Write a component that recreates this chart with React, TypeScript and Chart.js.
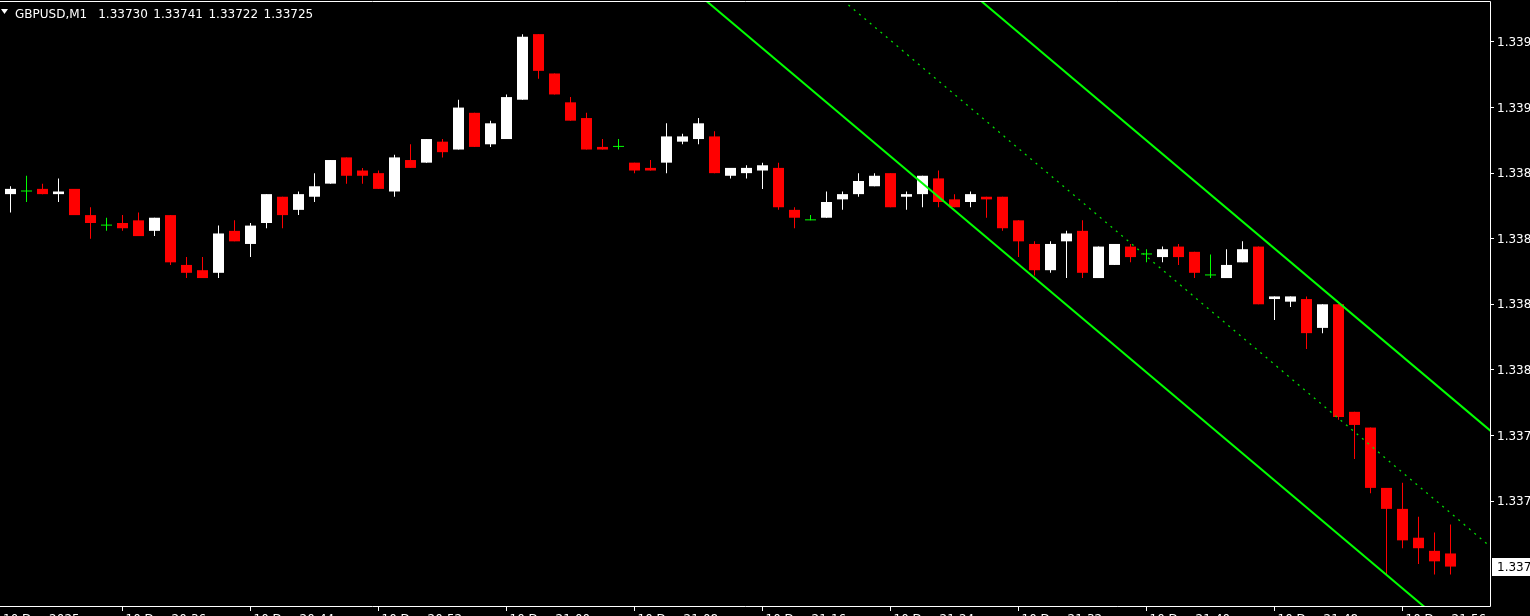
import React, { useEffect, useRef } from "react";
import { Chart, registerables } from "chart.js";

Chart.register(...registerables);

const symbol = "GBPUSD";
const timeframe = "M1";

const opens = [
  1.33867, 1.33868, 1.33869, 1.33867, 1.33869, 1.33859, 1.33855, 1.33856, 1.33857, 1.33853,
  1.33859, 1.3384, 1.33838, 1.33837, 1.33853, 1.33848, 1.33856, 1.33866, 1.33861, 1.33866,
  1.33871, 1.33881, 1.33876, 1.33875, 1.33868, 1.3388, 1.33879, 1.33887, 1.33884, 1.33898,
  1.33886, 1.33888, 1.33903, 1.33928, 1.33913, 1.33902, 1.33896, 1.33885, 1.33885, 1.33879,
  1.33877, 1.33879, 1.33887, 1.33888, 1.33889, 1.33874, 1.33875, 1.33876, 1.33877, 1.33861,
  1.33857, 1.33858, 1.33865, 1.33867, 1.3387, 1.33875, 1.33866, 1.33867, 1.33873, 1.33865,
  1.33864, 1.33866, 1.33866, 1.33857, 1.33848, 1.33838, 1.33849, 1.33853, 1.33835, 1.3384,
  1.33847, 1.33844, 1.33843, 1.33847, 1.33845, 1.33836, 1.33835, 1.33841, 1.33847, 1.33827,
  1.33826, 1.33827, 1.33816, 1.33825, 1.33784, 1.33778, 1.33755, 1.33747, 1.33736, 1.33731,
  1.3373,
];

const highs = [
  1.3387, 1.33874, 1.33871, 1.33873, 1.33869, 1.33862, 1.33858, 1.33859, 1.3386, 1.33858,
  1.33859, 1.33843, 1.33843, 1.33855, 1.33857, 1.33856, 1.33867, 1.33866, 1.33868, 1.33875,
  1.3388, 1.33881, 1.33877, 1.33876, 1.33882, 1.33886, 1.33888, 1.33888, 1.33903, 1.33898,
  1.33895, 1.33905, 1.33928, 1.33928, 1.33913, 1.33904, 1.33898, 1.33888, 1.33888, 1.33879,
  1.3388, 1.33894, 1.3389, 1.33896, 1.33891, 1.33877, 1.33878, 1.33879, 1.33879, 1.33862,
  1.33859, 1.33868, 1.33868, 1.33875, 1.33875, 1.33875, 1.33868, 1.33874, 1.33876, 1.33867,
  1.33868, 1.33866, 1.33866, 1.33857, 1.33849, 1.33849, 1.33853, 1.33857, 1.33847, 1.33848,
  1.33848, 1.33846, 1.33847, 1.33848, 1.33845, 1.33844, 1.33846, 1.33849, 1.33847, 1.33828,
  1.33828, 1.33828, 1.33825, 1.33825, 1.33784, 1.33778, 1.33755, 1.33757, 1.33744, 1.33738,
  1.33741,
];

const lows = [
  1.3386, 1.33864, 1.33867, 1.33864, 1.33859, 1.3385, 1.33853, 1.33853, 1.33851, 1.33851,
  1.3384, 1.33835, 1.33835, 1.33835, 1.33849, 1.33843, 1.33854, 1.33854, 1.33859, 1.33864,
  1.33871, 1.33871, 1.33871, 1.33869, 1.33866, 1.33877, 1.33879, 1.33881, 1.33884, 1.33885,
  1.33885, 1.33888, 1.33903, 1.33911, 1.33905, 1.33895, 1.33884, 1.33884, 1.33884, 1.33875,
  1.33876, 1.33875, 1.33886, 1.33886, 1.33875, 1.33873, 1.33873, 1.33869, 1.33861, 1.33854,
  1.33857, 1.33858, 1.33861, 1.33866, 1.3387, 1.33862, 1.33861, 1.33862, 1.33862, 1.33862,
  1.33862, 1.33858, 1.33853, 1.33843, 1.33836, 1.33837, 1.33835, 1.33835, 1.33835, 1.3384,
  1.33841, 1.33841, 1.33841, 1.3384, 1.33835, 1.33835, 1.33835, 1.33841, 1.33825, 1.33819,
  1.33824, 1.33808, 1.33814, 1.33781, 1.33766, 1.33753, 1.33722, 1.33732, 1.33726, 1.33722,
  1.33722,
];

const closes = [
  1.33869, 1.33868, 1.33867, 1.33868, 1.33859, 1.33856, 1.33855, 1.33854, 1.33851, 1.33858,
  1.33841, 1.33837, 1.33835, 1.33852, 1.33849, 1.33855, 1.33867, 1.33859, 1.33867, 1.3387,
  1.3388, 1.33874, 1.33874, 1.33869, 1.33881, 1.33877, 1.33888, 1.33883, 1.339, 1.33885,
  1.33894, 1.33904, 1.33927, 1.33914, 1.33905, 1.33895, 1.33884, 1.33884, 1.33885, 1.33876,
  1.33876, 1.33889, 1.33889, 1.33894, 1.33875, 1.33877, 1.33877, 1.33878, 1.33862, 1.33858,
  1.33857, 1.33864, 1.33867, 1.33872, 1.33874, 1.33862, 1.33867, 1.33874, 1.33864, 1.33862,
  1.33867, 1.33865, 1.33854, 1.33849, 1.33838, 1.33848, 1.33852, 1.33837, 1.33847, 1.33848,
  1.33843, 1.33844, 1.33846, 1.33843, 1.33837, 1.33836, 1.3384, 1.33846, 1.33825, 1.33828,
  1.33828, 1.33814, 1.33825, 1.33782, 1.33779, 1.33755, 1.33747, 1.33735, 1.33732, 1.33727,
  1.33725,
];

const priceTicks = [1.33925, 1.339, 1.33875, 1.3385, 1.33825, 1.338, 1.33775, 1.3375];
const timeTickIndex = [7, 15, 23, 31, 39, 47, 55, 63, 71, 79, 87];
const timeLabels = [
  "10 Dec 2025",
  "10 Dec 20:36",
  "10 Dec 20:44",
  "10 Dec 20:52",
  "10 Dec 21:00",
  "10 Dec 21:08",
  "10 Dec 21:16",
  "10 Dec 21:24",
  "10 Dec 21:32",
  "10 Dec 21:40",
  "10 Dec 21:48",
  "10 Dec 21:56",
];

const channelX = [40, 93];
const channelUpper = [1.34047, 1.337742];
const channelMiddle = [1.340028, 1.3373];
const channelLower = [1.339586, 1.336858];

const yMin = 1.3370959;
const yMax = 1.3394063;
const xMin = -0.65625;
const xMax = 92.46875;

const BULL = "#FFFFFF";
const BEAR = "#FF0000";
const DOJI = "#00FF00";
const FONT = "DejaVu Sans";

function candleColor(i: number) {
  if (closes[i] > opens[i]) return BULL;
  if (closes[i] < opens[i]) return BEAR;
  return DOJI;
}

function noPad(s: any) {
  s.paddingTop = 0;
  s.paddingBottom = 0;
  s.paddingLeft = 0;
  s.paddingRight = 0;
}

export default function App() {
  const ref = useRef<HTMLCanvasElement | null>(null);

  useEffect(() => {
    document.body.style.margin = "0";
    document.body.style.background = "#000";
    const canvas = ref.current;
    if (!canvas) return;
    const colors = opens.map((_, i) => candleColor(i));
    const last = closes.length - 1;

    const bgPlugin = {
      id: "bg",
      beforeDraw(chart: any) {
        const { ctx, width, height } = chart;
        ctx.save();
        ctx.fillStyle = "#000";
        ctx.fillRect(0, 0, width, height);
        ctx.restore();
      },
    };

    const overlayPlugin = {
      id: "overlay",
      afterDraw(chart: any) {
        const { ctx, chartArea, width } = chart;
        ctx.save();
        // frame
        ctx.strokeStyle = "#FFFFFF";
        ctx.lineWidth = 1;
        ctx.beginPath();
        const t = Math.round(chartArea.top) + 0.5;
        const r = Math.round(chartArea.right) + 0.5;
        const b = Math.round(chartArea.bottom) - 0.5;
        ctx.moveTo(0, t);
        ctx.lineTo(r, t);
        ctx.lineTo(r, b);
        ctx.lineTo(0, b);
        ctx.stroke();

        // current price label
        const yPix = chart.scales.y.getPixelForValue(closes[last]);
        ctx.fillStyle = "#FFFFFF";
        ctx.fillRect(chartArea.right + 2, Math.round(yPix) - 9, width - chartArea.right - 2, 18);
        ctx.fillStyle = "#000000";
        ctx.font = `12px "${FONT}"`;
        ctx.textBaseline = "middle";
        ctx.textAlign = "left";
        ctx.fillText(closes[last].toFixed(5), chartArea.right + 7, Math.round(yPix) + 1);

        // title
        ctx.fillStyle = "#FFFFFF";
        ctx.beginPath();
        ctx.moveTo(chartArea.left + 1, chartArea.top + 8);
        ctx.lineTo(chartArea.left + 8, chartArea.top + 8);
        ctx.lineTo(chartArea.left + 4.5, chartArea.top + 13);
        ctx.closePath();
        ctx.fill();
        ctx.textBaseline = "alphabetic";
        const head = `${symbol},${timeframe}`;
        const values = [opens[last], highs[last], lows[last], closes[last]].map((v) => v.toFixed(5));
        const baseY = chartArea.top + 17;
        let x = chartArea.left + 15;
        ctx.fillText(head, x, baseY);
        x += ctx.measureText(head).width + 11;
        values.forEach((v) => {
          ctx.fillText(v, x, baseY);
          x += ctx.measureText(v).width + 5.5;
        });
        ctx.restore();
      },
    };

    const lineDs = (label: string, ys: number[], width: number, dash: number[], color: string) => ({
      type: "line" as const,
      label,
      data: channelX.map((x, i) => ({ x, y: ys[i] })),
      borderColor: color,
      borderWidth: width,
      borderDash: dash,
      pointRadius: 0,
      tension: 0,
      clip: 0,
      order: 0,
    });

    const chart = new Chart(canvas, {
      type: "bar",
      data: {
        datasets: [
          lineDs("upper", channelUpper, 2, [], "#00FF00"),
          lineDs("middle", channelMiddle, 1.3, [2, 5], "#00E000"),
          lineDs("lower", channelLower, 2, [], "#00FF00"),
          {
            type: "bar",
            label: "bodies",
            data: opens.map((o, i) => ({ x: i, y: [o, closes[i]] })) as any,
            backgroundColor: colors,
            barThickness: 11,
            grouped: false,
            minBarLength: 1,
            borderWidth: 0,
            inflateAmount: 0,
            order: 1,
          } as any,
          {
            type: "bar",
            label: "wicks",
            data: lows.map((l, i) => ({ x: i, y: [l, highs[i]] })) as any,
            backgroundColor: colors,
            barThickness: 1,
            grouped: false,
            borderWidth: 0,
            inflateAmount: 0,
            order: 2,
          } as any,
        ] as any,
      },
      options: {
        responsive: false,
        maintainAspectRatio: false,
        devicePixelRatio: 1,
        animation: false,
        events: [],
        layout: { padding: { top: 1, left: 0, right: 0, bottom: 0 }, autoPadding: false },
        plugins: {
          legend: { display: false },
          tooltip: { enabled: false },
          title: { display: false },
        },
        scales: {
          x: {
            type: "linear",
            min: xMin,
            max: xMax,
            offset: false,
            position: "bottom",
            afterFit: (s: any) => {
              s.height = 9;
              noPad(s);
            },
            afterBuildTicks: (s: any) => {
              s.ticks = [xMin, ...timeTickIndex].map((v) => ({ value: v }));
            },
            grid: {
              display: true,
              drawOnChartArea: false,
              drawTicks: true,
              tickLength: 4,
              offset: false,
              tickColor: (c: any) => (c.index === 0 ? "rgba(0,0,0,0)" : "#FFFFFF"),
            },
            border: { display: false },
            ticks: {
              autoSkip: false,
              maxRotation: 0,
              minRotation: 0,
              align: "start",
              labelOffset: 3,
              padding: 2,
              color: "#FFFFFF",
              font: { family: FONT, size: 12 },
              callback: (_v: any, i: number) => timeLabels[i],
            },
          } as any,
          y: {
            type: "linear",
            position: "right",
            min: yMin,
            max: yMax,
            afterFit: (s: any) => {
              s.width = 40;
              noPad(s);
            },
            afterBuildTicks: (s: any) => {
              s.ticks = priceTicks.map((v) => ({ value: v }));
            },
            grid: {
              display: true,
              drawOnChartArea: false,
              drawTicks: true,
              tickLength: 4,
              tickColor: "#FFFFFF",
            },
            border: { display: false },
            ticks: {
              padding: 3,
              labelOffset: 1,
              color: "#FFFFFF",
              font: { family: FONT, size: 12 },
              callback: (v: any) => Number(v).toFixed(5),
            },
          } as any,
        },
      },
      plugins: [bgPlugin, overlayPlugin],
    });

    return () => chart.destroy();
  }, []);

  return (
    <canvas ref={ref} width={1530} height={616} style={{ display: "block" }} />
  );
}
